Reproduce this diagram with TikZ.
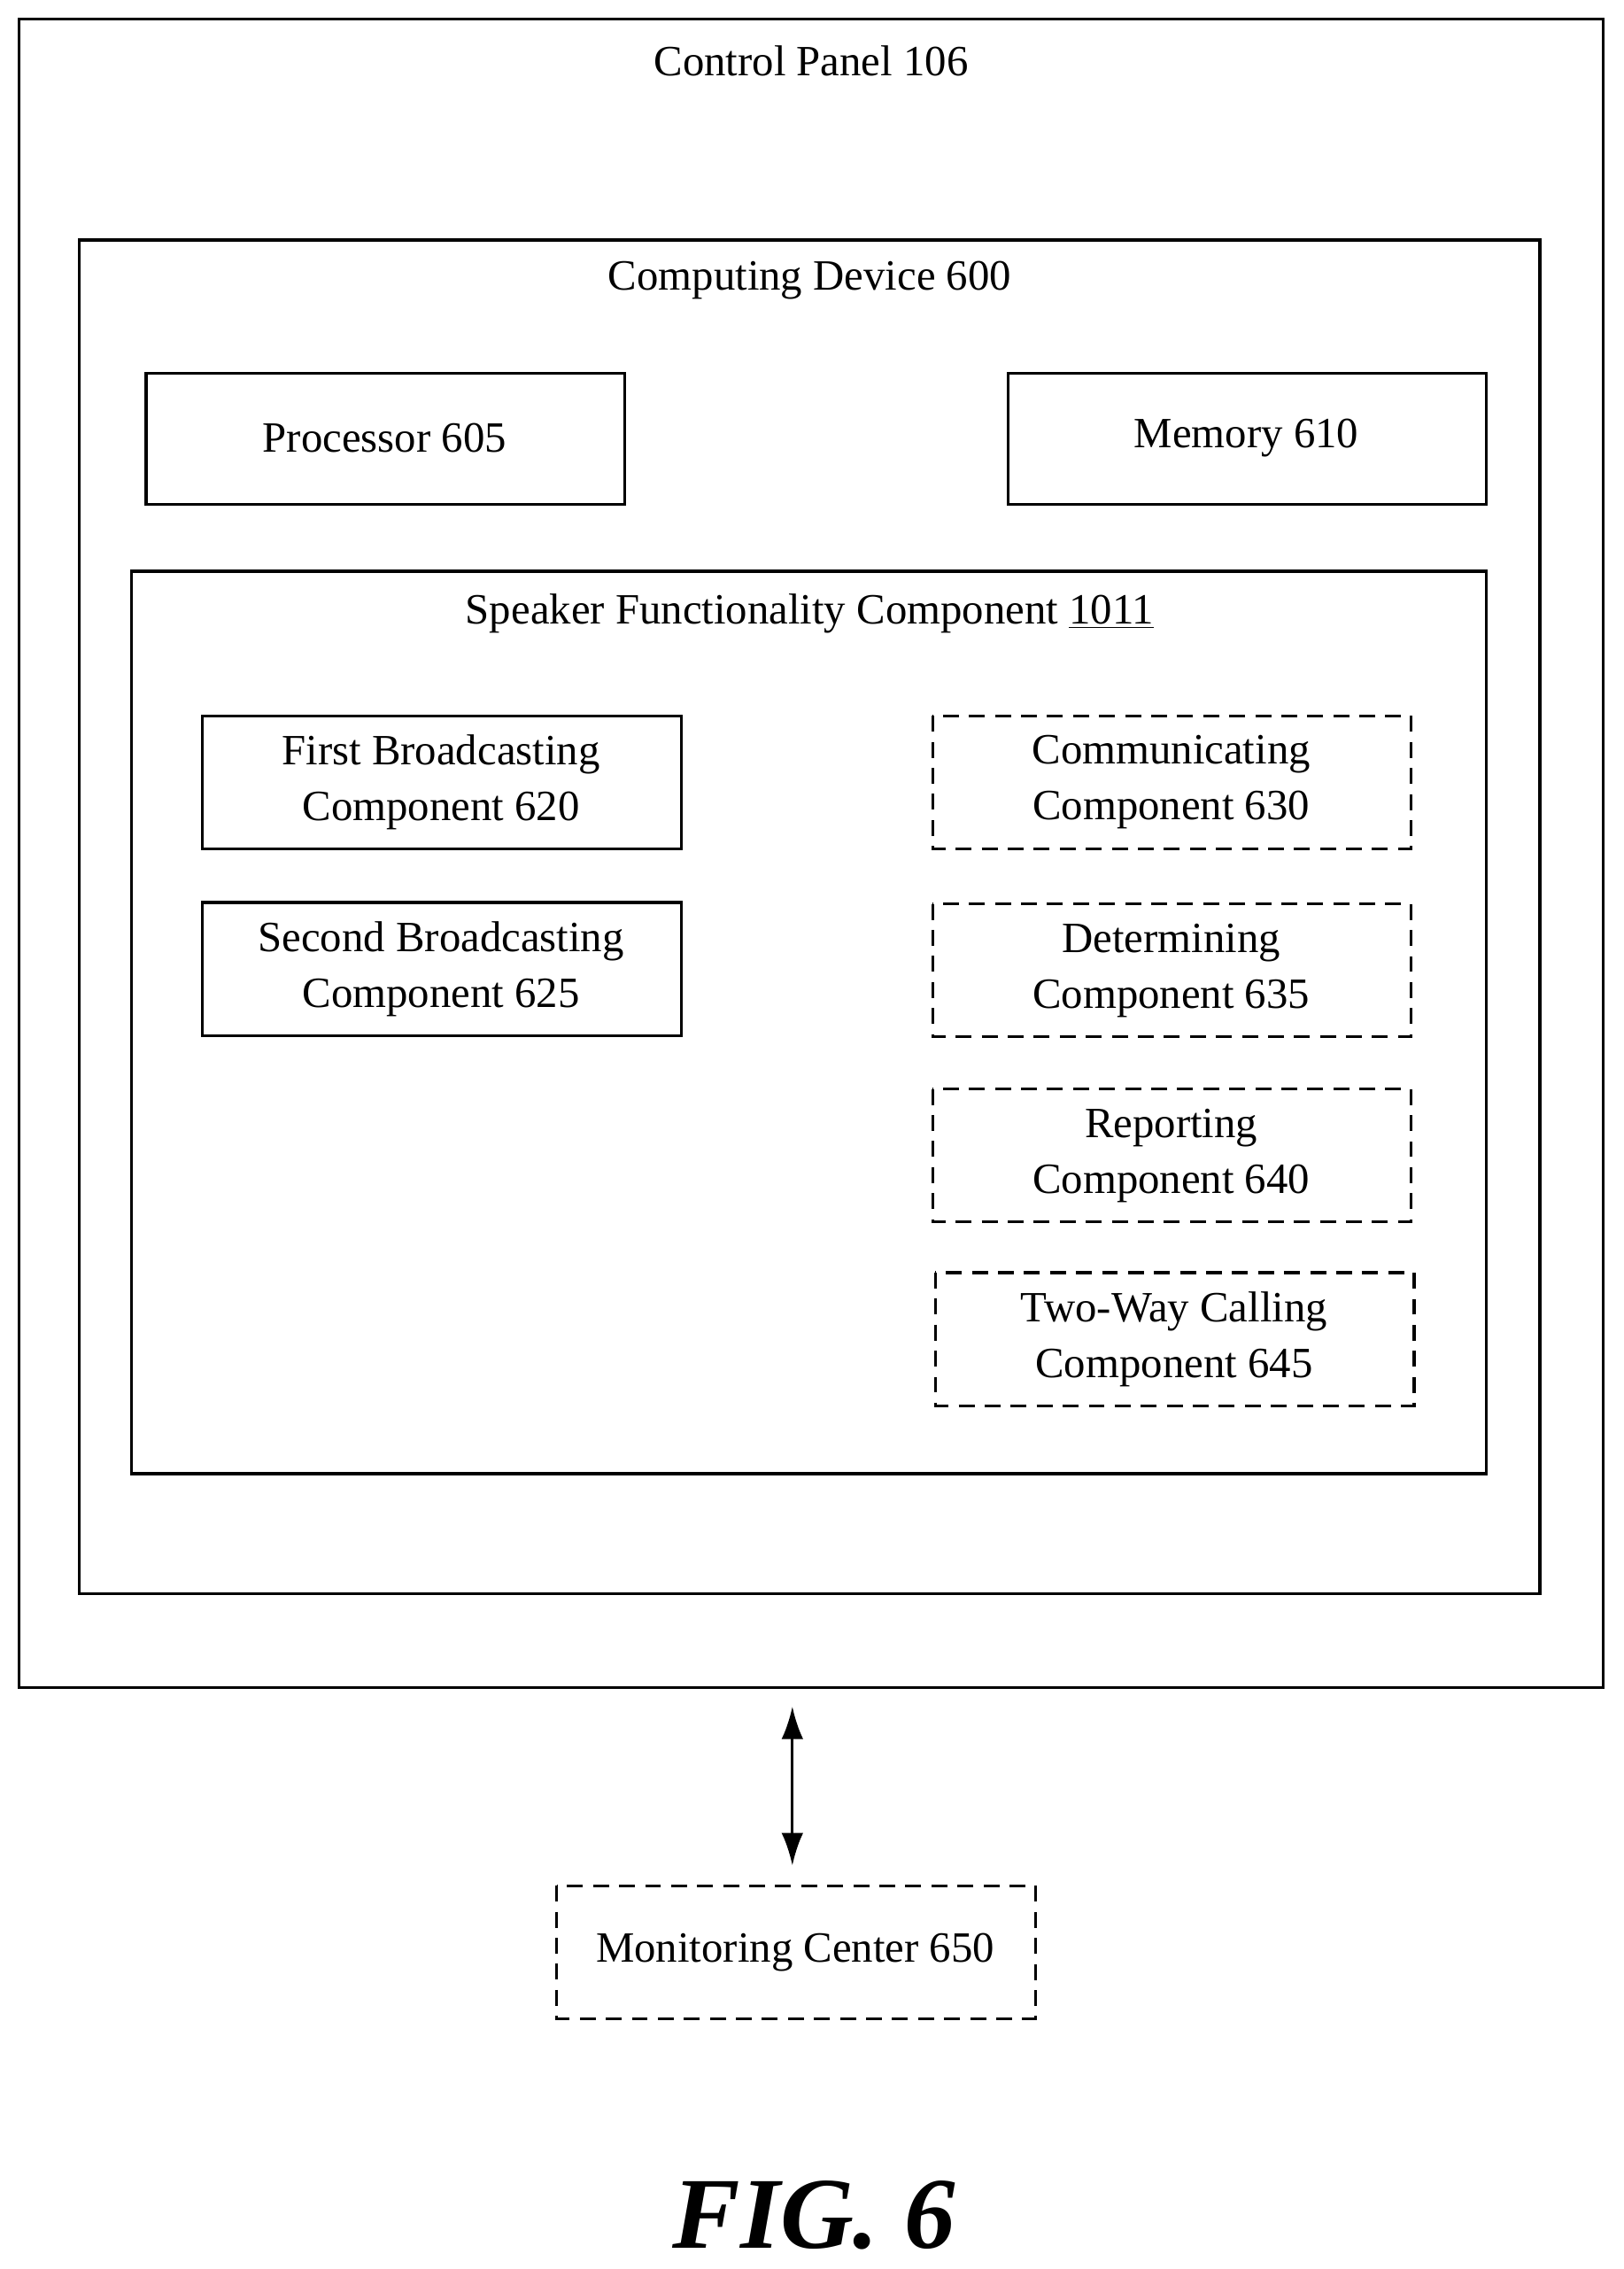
\documentclass[tikz,border=0pt]{standalone}
\usepackage{fontspec}
\usetikzlibrary{arrows.meta}
\setmainfont{Liberation Serif}
\begin{document}
\begin{tikzpicture}[x=0.02cm,y=-0.02cm,
  box/.style={draw,line width=1.1pt},
  dbox/.style={draw,line width=1.1pt,dash pattern=on 0.22cm off 0.14cm},
  lbl/.style={font=\fontsize{17}{22}\selectfont,align=center}]
\useasboundingbox (0,0) rectangle (1123,1569);
\draw[box] (13,13) rectangle (1109,1167);
\node[lbl] (cp) at (561,42) {Control Panel 106};
\draw[box] (55,166) rectangle (1065,1102);
\node[lbl] (cd) at (560,194) {Computing Device 600};
\draw[box] (101,258) rectangle (432,349); \node[lbl] (p) at (266,303) {Processor 605};
\draw[box] (697,258) rectangle (1028,349); \node[lbl] (m) at (862,303) {Memory 610};
\draw[box] (91,395) rectangle (1028,1019);
\node[lbl] (s) at (560,424) {Speaker Functionality Component \underline{1011}};
\draw[box] (140,495) rectangle (471,587); \node[lbl] (a) at (305,541) {First Broadcasting\\Component 620};
\draw[box] (140,624) rectangle (471,716); \node[lbl] (b) at (305,670) {Second Broadcasting\\Component 625};
\draw[dbox] (645,495) rectangle (976,587); \node[lbl] (c) at (810,541) {Communicating\\Component 630};
\draw[dbox] (645,625) rectangle (976,717); \node[lbl] (d) at (810,671) {Determining\\Component 635};
\draw[dbox] (645,753) rectangle (976,845); \node[lbl] (r) at (810,799) {Reporting\\Component 640};
\draw[dbox] (647,880) rectangle (978,972); \node[lbl] (t) at (812,926) {Two-Way Calling\\Component 645};
\draw[dbox] (385,1304) rectangle (716,1396); \node[lbl] (mc) at (550,1350) {Monitoring Center 650};
\coordinate (u) at (548,1180); \coordinate (l) at (548,1290);
\draw[line width=1.1pt,{Latex[length=0.45cm,width=0.3cm]}-{Latex[length=0.45cm,width=0.3cm]}] (u) -- (l);
\node[font=\fontsize{40}{44}\selectfont\bfseries\itshape] (fig) at (563,1532) {FIG. 6};
\end{tikzpicture}
\end{document}
